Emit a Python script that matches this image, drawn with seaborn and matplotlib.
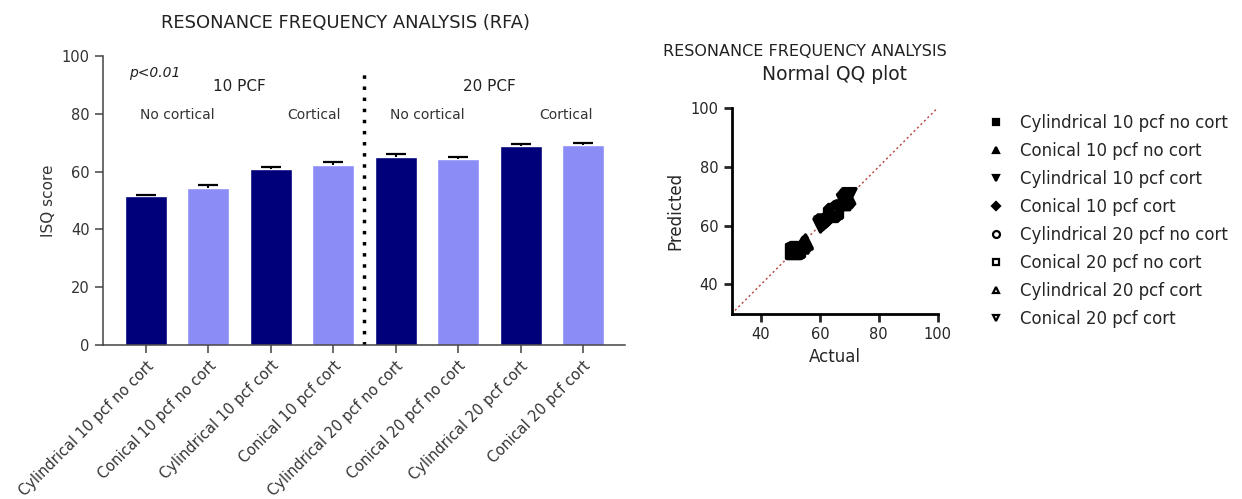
import numpy as np
import pandas as pd
import matplotlib
matplotlib.use("Agg")
import matplotlib.pyplot as plt
import seaborn as sns

# DATA
groups = ["Cylindrical 10 pcf no cort", "Conical 10 pcf no cort",
          "Cylindrical 10 pcf cort", "Conical 10 pcf cort",
          "Cylindrical 20 pcf no cort", "Conical 20 pcf no cort",
          "Cylindrical 20 pcf cort", "Conical 20 pcf cort"]
isq_mean = [51.5, 54.4, 60.8, 62.3, 65.1, 64.4, 68.8, 69.1]
isq_sd = [0.5, 0.8, 0.6, 0.9, 0.9, 0.6, 0.8, 0.9]
bar_colors = ["#00007a", "#8c8cf7"] * 4

# QQ points (actual vs predicted) per group
qq_actual = {
    "Cylindrical 10 pcf no cort": [51.0, 51.3, 51.6, 51.9, 52.2],
    "Conical 10 pcf no cort": [53.6, 54.0, 54.4, 54.8, 55.1],
    "Cylindrical 10 pcf cort": [60.2, 60.5, 60.8, 61.1, 61.4],
    "Conical 10 pcf cort": [61.6, 62.0, 62.4, 62.8, 63.2],
    "Cylindrical 20 pcf no cort": [64.0, 64.5, 65.0, 65.5, 66.0],
    "Conical 20 pcf no cort": [63.6, 64.0, 64.4, 64.8, 65.1],
    "Cylindrical 20 pcf cort": [67.9, 68.4, 68.8, 69.2, 69.6],
    "Conical 20 pcf cort": [68.2, 68.7, 69.1, 69.5, 70.0],
}
qq_pred = {
    "Cylindrical 10 pcf no cort": [51.2, 51.4, 51.6, 51.8, 52.0],
    "Conical 10 pcf no cort": [53.2, 53.7, 54.1, 54.5, 54.9],
    "Cylindrical 10 pcf cort": [60.3, 60.7, 61.0, 61.3, 61.6],
    "Conical 10 pcf cort": [61.9, 62.3, 62.7, 63.1, 63.5],
    "Cylindrical 20 pcf no cort": [64.3, 64.8, 65.3, 65.8, 66.3],
    "Conical 20 pcf no cort": [63.7, 64.1, 64.5, 64.9, 65.2],
    "Cylindrical 20 pcf cort": [67.6, 68.2, 68.6, 69.1, 69.6],
    "Conical 20 pcf cort": [68.3, 68.8, 69.3, 69.8, 70.3],
}
qq_markers = ["s", "^", "v", "D", "o", "s", "^", "v"]
qq_filled = [True, True, True, True, False, False, False, False]
qq_sizes = [90, 90, 90, 50, 80, 90, 90, 90]

sns.set_style("white")
plt.rcParams["font.family"] = ["DejaVu Sans"]

fig = plt.figure(figsize=(12.42, 4.99), dpi=100)

#############################################################################
# BAR CHART
ax1 = fig.add_axes([0.0829, 0.3086, 0.4203, 0.5794])
df = pd.DataFrame({"group": groups, "isq": isq_mean})
sns.barplot(data=df, x="group", y="isq", hue="group", palette=bar_colors,
            legend=False, width=0.67, errorbar=None, ax=ax1, saturation=1)
eb = ax1.errorbar(np.arange(len(groups)), isq_mean,
                  yerr=[np.zeros(len(groups)), isq_sd], fmt="none",
                  ecolor="black", elinewidth=1.5, capsize=7, capthick=1.6)
eb[1][0].set_visible(False)  # hide lower caps
ax1.set_xlim(-0.685, 7.67)
ax1.set_ylim(0, 100)
ax1.set_yticks([0, 20, 40, 60, 80, 100])
ax1.set_xlabel("")
ax1.set_ylabel("ISQ score", fontsize=11, color="#333333")
ax1.set_xticks(range(len(groups)))
ax1.set_xticklabels(groups, rotation=45, ha="right", rotation_mode="anchor",
                    fontsize=10.5, color="#333333")
ax1.tick_params(axis="y", labelsize=10.5, labelcolor="#333333")
ax1.tick_params(axis="both", direction="out", length=6, width=1.1,
                color="#444444", left=True, bottom=True)
sns.despine(ax=ax1)
for s in ["left", "bottom"]:
    ax1.spines[s].set_color("#444444")
    ax1.spines[s].set_linewidth(1.1)

ax1.vlines(3.5, 0, 94, colors="black", linestyles=(0, (1, 2.2)), linewidth=2.5)
ax1.text(-0.26, 94.2, "p<0.01", style="italic", fontsize=10, color="#222222",
         va="center", ha="left")
ax1.text(1.5, 89.3, "10 PCF", fontsize=11, ha="center", va="center", color="#222222")
ax1.text(5.5, 89.3, "20 PCF", fontsize=11, ha="center", va="center", color="#222222")
for xpos, lab in [(0.5, "No cortical"), (2.7, "Cortical"),
                  (4.5, "No cortical"), (6.73, "Cortical")]:
    ax1.text(xpos, 79.5, lab, fontsize=10, ha="center", va="center", color="#333333")

fig.text(0.278, 0.954, "RESONANCE FREQUENCY ANALYSIS (RFA)", fontsize=12.9,
         ha="center", va="center", color="#222222")

#############################################################################
# QQ PLOT
ax2 = fig.add_axes([0.589, 0.371, 0.166, 0.413])
handles = []
for g, m, filled, sz in zip(groups, qq_markers, qq_filled, qq_sizes):
    fc = "black" if filled else "none"
    sns.scatterplot(x=qq_actual[g], y=qq_pred[g], marker=m, s=sz,
                    facecolor=fc, edgecolor="black", linewidth=2.4, ax=ax2)
    handles.append(plt.Line2D([], [], linestyle="none", marker=m,
                              markerfacecolor=fc, markeredgecolor="black",
                              markeredgewidth=1.6,
                              markersize=5 if m != "D" else 3.8))
ax2.plot([30, 100], [30, 100], linestyle=(0, (1.5, 2)), color="#b5413f",
         linewidth=1, zorder=0)
ax2.set_xlim(30, 100)
ax2.set_ylim(30, 100)
ax2.set_xticks([40, 60, 80, 100])
ax2.set_yticks([40, 60, 80, 100])
ax2.set_xlabel("Actual", fontsize=12)
ax2.set_ylabel("Predicted", fontsize=12)
ax2.tick_params(axis="both", direction="out", length=6, width=2, labelsize=10.5,
                left=True, bottom=True)
sns.despine(ax=ax2)
for s in ["left", "bottom"]:
    ax2.spines[s].set_color("black")
    ax2.spines[s].set_linewidth(2)

fig.text(0.648, 0.896, "RESONANCE FREQUENCY ANALYSIS", fontsize=11.5,
         ha="center", va="center", color="#222222")
fig.text(0.672, 0.850, "Normal QQ plot", fontsize=13.5,
         ha="center", va="center", color="#222222")

fig.legend(handles, groups, loc="upper left", bbox_to_anchor=(0.790, 0.785),
           frameon=False, fontsize=12, labelspacing=0.6, handlelength=1.0,
           handletextpad=0.92, borderaxespad=0)

fig.savefig("out.png", dpi=100)
